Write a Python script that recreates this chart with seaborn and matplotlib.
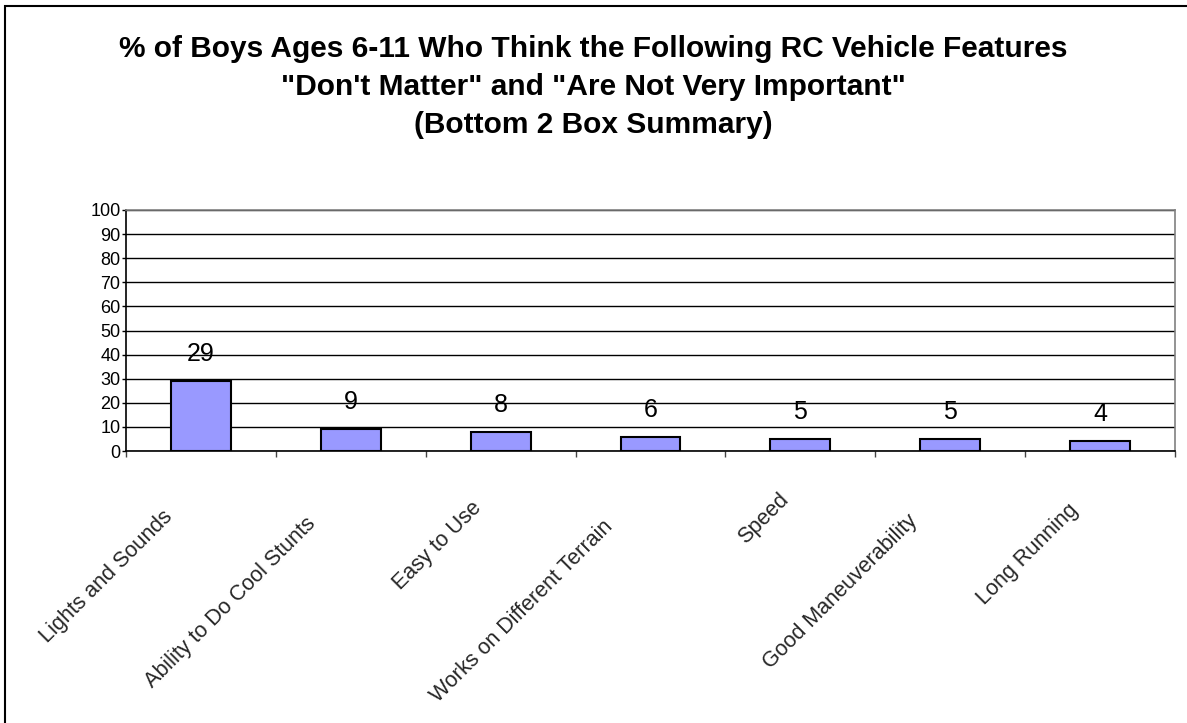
import numpy as np
import matplotlib
matplotlib.use("Agg")
import matplotlib.pyplot as plt
import matplotlib.patches as patches
import seaborn as sns

# chart data
features = ["Lights and Sounds", "Ability to Do Cool Stunts", "Easy to Use",
            "Works on Different Terrain", "Speed", "Good Maneuverability", "Long Running"]
percent = [29, 9, 8, 6, 5, 5, 4]
y_ticks = list(range(0, 101, 10))
title_lines = ["% of Boys Ages 6-11 Who Think the Following RC Vehicle Features",
               "\"Don't Matter\" and \"Are Not Very Important\"",
               "(Bottom 2 Box Summary)"]

sns.set_style("white")
plt.rcParams["font.family"] = ["Liberation Sans", "DejaVu Sans"]

W, H = 1187, 723
fig = plt.figure(figsize=(W / 100, H / 100), dpi=100)
ax = fig.add_axes([126 / W, 1 - 451 / H, (1175 - 126) / W, (451 - 210) / H])

sns.barplot(x=features, y=percent, color="#9999FF", saturation=1,
            edgecolor="black", linewidth=1.5, width=0.4, ax=ax, zorder=3)

ax.set_xlim(-0.5, len(features) - 0.5)
ax.set_ylim(0, 100)
ax.set_yticks(y_ticks)
ax.set_yticklabels([str(v) for v in y_ticks], fontsize=13, color="black")
ax.tick_params(axis="y", length=3, width=1, direction="out", pad=1, color="black", left=True)
ax.set_xticks([])
ax.set_xticks(np.arange(-0.5, len(features), 1), minor=True)
ax.tick_params(axis="x", which="minor", length=4.5, width=1, direction="out", color="#444444", bottom=True)
ax.set_xlabel("")
ax.set_ylabel("")

ax.yaxis.grid(True, color="black", linewidth=1)
ax.set_axisbelow(True)
for side in ["left", "bottom"]:
    ax.spines[side].set_color("black")
    ax.spines[side].set_linewidth(1.2)
for side in ["top", "right"]:
    ax.spines[side].set_color("#808080")
    ax.spines[side].set_linewidth(1.2)

# value labels above the bars
for i, v in enumerate(percent):
    ax.annotate(str(v), xy=(i, v), xytext=(0, 27), textcoords="offset pixels",
                ha="center", va="center", fontsize=18, color="black")

# rotated category labels, placed the way the spreadsheet does it
xlab_size = 15.5
renderer = fig.canvas.get_renderer()
r = np.sqrt(0.5)
for i, name in enumerate(features):
    tmp = ax.text(0, 0, name, fontsize=xlab_size)
    L = tmp.get_window_extent(renderer).width
    tmp.remove()
    t = -25.5 - 0.2 * L
    perp = 27
    dx = perp * r + t * r - 7
    dy = -perp * r + t * r
    ax.annotate(name, xy=(i, 0), xycoords=("data", "axes fraction"), xytext=(dx, dy),
                textcoords="offset pixels", rotation=45, rotation_mode="anchor",
                ha="right", va="center", fontsize=xlab_size, annotation_clip=False)

# title, one line at a time (baselines)
for k, line in enumerate(title_lines):
    fig.text(0.5, 1 - (57 + 38 * k) / H, line, ha="center", va="baseline",
             fontsize=21.5, fontweight="bold", color="black")

# chart border
fig.add_artist(patches.Rectangle((5 / W, -0.1), 1.2, 1 - 6 / H + 0.1,
                                 transform=fig.transFigure, fill=False,
                                 edgecolor="black", linewidth=1.5))

fig.savefig("out.png", dpi=100, facecolor="white")
